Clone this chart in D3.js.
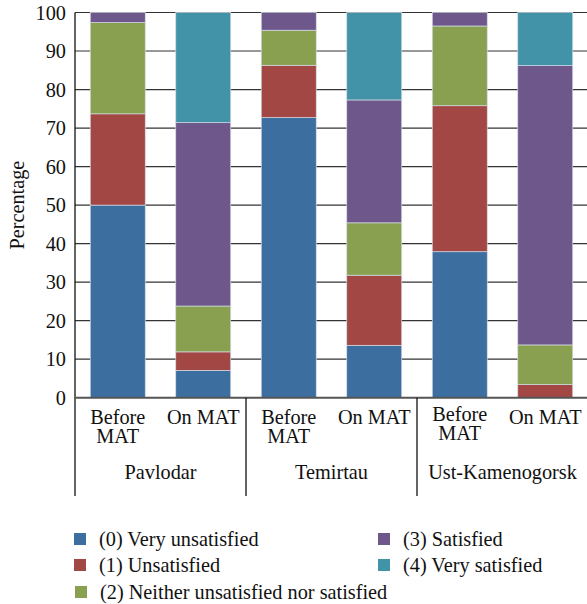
<!DOCTYPE html>
<html>
<head>
<meta charset="utf-8">
<script src="https://cdn.jsdelivr.net/npm/d3@7"></script>
<style>
  body { margin: 0; background: #FFFFFF; }
</style>
</head>
<body>
<div id="chart"></div>
<script>
// Data:
var cities = ["Pavlodar", "Temirtau", "Ust-Kamenogorsk"];
var periods = ["Before MAT", "On MAT"];
var levels = ["(0) Very unsatisfied", "(1) Unsatisfied", "(2) Neither unsatisfied nor satisfied",
  "(3) Satisfied", "(4) Very satisfied"];
// one array per bar, values for levels 0..4 (percent)
var pavlodarBefore = [50, 23.7, 23.7, 2.6, 0];
var pavlodarOn = [7.1, 4.8, 11.9, 47.6, 28.6];
var temirtauBefore = [72.7, 13.6, 9.1, 4.6, 0];
var temirtauOn = [13.6, 18.2, 13.6, 31.9, 22.7];
var ustBefore = [37.9, 37.9, 20.7, 3.5, 0];
var ustOn = [0, 3.4, 10.3, 72.5, 13.8];
var yTicks = [0, 10, 20, 30, 40, 50, 60, 70, 80, 90, 100];

// Constants:
var WIDTH = 587, HEIGHT = 604;
var PLOT = { left: 75, right: 588, top: 12.5, bottom: 397.7 };
var COLORS = ["#3C6E9F", "#A24744", "#88A04F", "#6D578B", "#4393A8"];
var FONT = 20.3, FAMILY = "Liberation Serif";

var bars = [
  { city: cities[0], period: periods[0], values: pavlodarBefore },
  { city: cities[0], period: periods[1], values: pavlodarOn },
  { city: cities[1], period: periods[0], values: temirtauBefore },
  { city: cities[1], period: periods[1], values: temirtauOn },
  { city: cities[2], period: periods[0], values: ustBefore },
  { city: cities[2], period: periods[1], values: ustOn }
];
bars.forEach(function(b, i) { b.key = "b" + i; });

var svg = d3.select("#chart").append("svg")
  .attr("width", WIDTH)
  .attr("height", HEIGHT)
  .attr("font-family", FAMILY);

var x = d3.scaleBand()
  .domain(bars.map(function(d) { return d.key; }))
  .range([PLOT.left, PLOT.right])
  .paddingInner(0.357)
  .paddingOuter(0.1785);

var y = d3.scaleLinear()
  .domain([0, 100])
  .range([PLOT.bottom, PLOT.top]);

function label(sel) {
  return sel.attr("font-size", FONT)
    .attr("font-family", FAMILY)
    .attr("fill", "#111");
}

// gridlines (behind bars)
svg.append("g").selectAll("line")
  .data(yTicks.filter(function(t) { return t > 0; }))
  .enter().append("line")
  .attr("x1", PLOT.left).attr("x2", WIDTH)
  .attr("y1", function(d) { return y(d); })
  .attr("y2", function(d) { return y(d); })
  .attr("stroke", "#333")
  .attr("stroke-width", 1.2);

// stacked bars
var stack = d3.stack()
  .keys([0, 1, 2, 3, 4])
  .value(function(d, k) { return d.values[k]; });
var series = stack(bars);

svg.append("g").selectAll("g")
  .data(series)
  .enter().append("g")
  .attr("fill", function(d, i) { return COLORS[i]; })
  .selectAll("rect")
  .data(function(d) { return d; })
  .enter().append("rect")
  .attr("x", function(d) { return x(d.data.key); })
  .attr("width", x.bandwidth())
  .attr("y", function(d) { return y(d[1]); })
  .attr("height", function(d) { return y(d[0]) - y(d[1]); })
  .attr("stroke", "#d4dbe6")
  .attr("stroke-width", function(d) { return d[1] - d[0] > 0 ? 0.7 : 0; });

// y axis
var yAxis = svg.append("g")
  .attr("transform", "translate(" + PLOT.left + ",0)")
  .call(d3.axisLeft(y).tickValues(yTicks).tickSize(0).tickPadding(9));
yAxis.attr("font-family", FAMILY).attr("font-size", FONT);
yAxis.select(".domain").remove();
label(yAxis.selectAll("text"));

label(svg.append("text"))
  .attr("transform", "translate(24," + (y(50)) + ") rotate(-90)")
  .attr("text-anchor", "middle")
  .text("Percentage");

// left axis line, running down through the category area
svg.append("line")
  .attr("x1", PLOT.left).attr("x2", PLOT.left)
  .attr("y1", PLOT.top).attr("y2", 496)
  .attr("stroke", "#111").attr("stroke-width", 1.3);

// baseline
svg.append("line")
  .attr("x1", PLOT.left).attr("x2", WIDTH)
  .attr("y1", PLOT.bottom).attr("y2", PLOT.bottom)
  .attr("stroke", "#555").attr("stroke-width", 2);

// group dividers
var step = x.step();
[1, 2].forEach(function(g) {
  var gx = PLOT.left + step * 2 * g;
  svg.append("line")
    .attr("x1", gx).attr("x2", gx)
    .attr("y1", PLOT.bottom).attr("y2", 496)
    .attr("stroke", "#111").attr("stroke-width", 1.3);
});

// category labels
bars.forEach(function(b, i) {
  var cx = x(b.key) + x.bandwidth() / 2;
  if (b.period == "Before MAT") {
    var dy = b.city == "Ust-Kamenogorsk" ? -3 : 0;
    ["Before", "MAT"].forEach(function(w, j) {
      label(svg.append("text"))
        .attr("text-anchor", "middle")
        .attr("x", cx)
        .attr("y", 424 + dy + j * 19)
        .text(w);
    });
  } else {
    label(svg.append("text"))
      .attr("text-anchor", "middle")
      .attr("x", cx)
      .attr("y", 424)
      .text(b.period);
  }
});

// city labels
cities.forEach(function(c, i) {
  label(svg.append("text"))
    .attr("text-anchor", "middle")
    .attr("x", PLOT.left + step * (2 * i + 1))
    .attr("y", 479)
    .text(c);
});

// legend
var legendPos = [
  { x: 74, y: 539 }, { x: 74, y: 565 }, { x: 75, y: 592 },
  { x: 378, y: 539 }, { x: 378, y: 565 }
];
var legend = svg.append("g").selectAll("g")
  .data(levels)
  .enter().append("g")
  .attr("transform", function(d, i) { return "translate(" + legendPos[i].x + "," + legendPos[i].y + ")"; });
legend.append("rect")
  .attr("x", 0).attr("y", -6)
  .attr("width", 12).attr("height", 12)
  .attr("fill", function(d, i) { return COLORS[i]; });
label(legend.append("text"))
  .attr("x", 25).attr("y", 6.5)
  .text(function(d) { return d; });
</script>
</body>
</html>
